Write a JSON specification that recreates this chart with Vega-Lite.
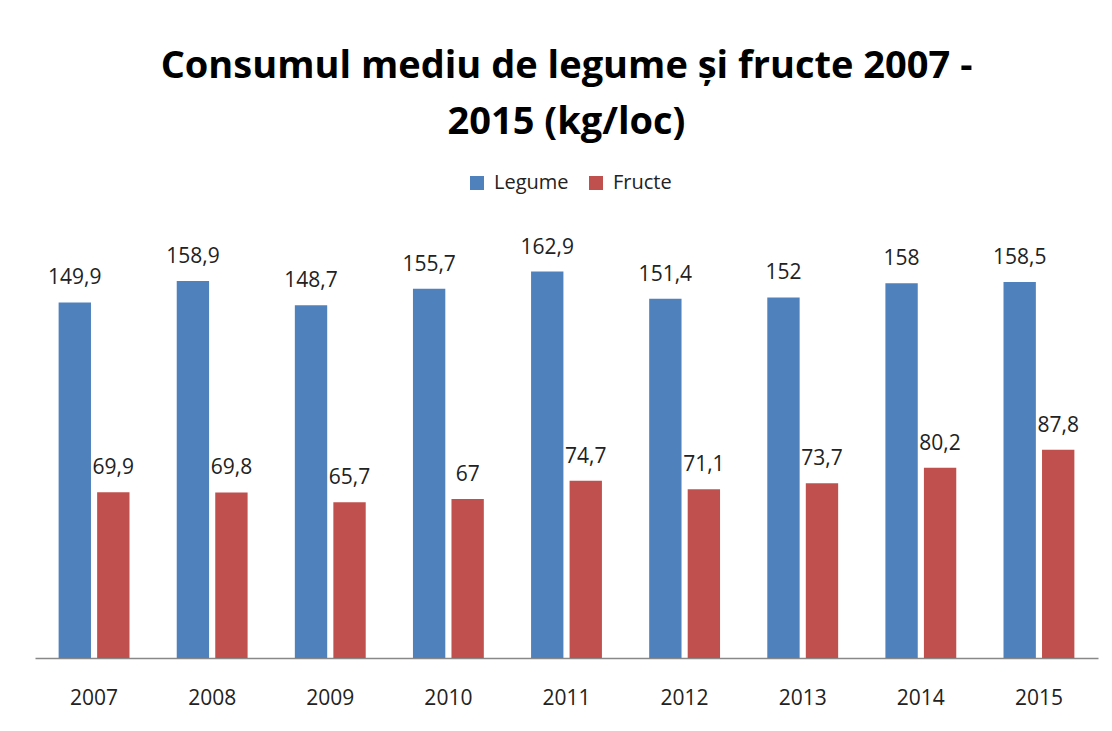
{
  "$schema": "https://vega.github.io/schema/vega-lite/v6.json",
  "width": 1063,
  "height": 427,
  "padding": {"left": 35, "top": 48, "right": 14, "bottom": 10},
  "autosize": {"type": "pad"},
  "background": "white",
  "title": {
    "text": ["Consumul mediu de legume și fructe 2007 -", "2015 (kg/loc)"],
    "font": "Open Sans",
    "fontSize": 38,
    "fontWeight": "bold",
    "color": "#000000",
    "lineHeight": 56,
    "anchor": "middle",
    "offset": 31
  },
  "data": {
    "values": [
      {"an": "2007", "serie": "Legume", "valoare": 149.9},
      {"an": "2007", "serie": "Fructe", "valoare": 69.9},
      {"an": "2008", "serie": "Legume", "valoare": 158.9},
      {"an": "2008", "serie": "Fructe", "valoare": 69.8},
      {"an": "2009", "serie": "Legume", "valoare": 148.7},
      {"an": "2009", "serie": "Fructe", "valoare": 65.7},
      {"an": "2010", "serie": "Legume", "valoare": 155.7},
      {"an": "2010", "serie": "Fructe", "valoare": 67},
      {"an": "2011", "serie": "Legume", "valoare": 162.9},
      {"an": "2011", "serie": "Fructe", "valoare": 74.7},
      {"an": "2012", "serie": "Legume", "valoare": 151.4},
      {"an": "2012", "serie": "Fructe", "valoare": 71.1},
      {"an": "2013", "serie": "Legume", "valoare": 152},
      {"an": "2013", "serie": "Fructe", "valoare": 73.7},
      {"an": "2014", "serie": "Legume", "valoare": 158},
      {"an": "2014", "serie": "Fructe", "valoare": 80.2},
      {"an": "2015", "serie": "Legume", "valoare": 158.5},
      {"an": "2015", "serie": "Fructe", "valoare": 87.8}
    ]
  },
  "encoding": {
    "x": {
      "field": "an",
      "type": "nominal",
      "title": null,
      "scale": {"paddingInner": 0.4, "paddingOuter": 0.2},
      "axis": {
        "labelAngle": 0,
        "ticks": false,
        "domainColor": "#888888",
        "domainWidth": 1.5,
        "labelFont": "Open Sans",
        "labelFontSize": 21,
        "labelColor": "#222222",
        "labelPadding": 29,
        "grid": false
      }
    },
    "xOffset": {
      "field": "serie",
      "sort": ["Legume", "Fructe"],
      "scale": {"paddingInner": 0.16, "paddingOuter": 0}
    },
    "y": {
      "field": "valoare",
      "type": "quantitative",
      "scale": {"domain": [0, 180], "nice": false},
      "axis": null
    }
  },
  "layer": [
    {
      "mark": {"type": "bar"},
      "encoding": {
        "color": {
          "field": "serie",
          "type": "nominal",
          "sort": ["Legume", "Fructe"],
          "scale": {"domain": ["Legume", "Fructe"], "range": ["#4F81BD", "#C0504D"]},
          "legend": {
            "orient": "none",
            "direction": "horizontal",
            "legendX": 432,
            "legendY": -58,
            "title": null,
            "symbolType": "square",
            "symbolSize": 196,
            "symbolStrokeWidth": 0,
            "labelFont": "Open Sans",
            "labelFontSize": 20,
            "labelColor": "#222222",
            "columnPadding": 17,
            "labelOffset": 7
          }
        }
      }
    },
    {
      "mark": {"type": "text", "baseline": "alphabetic", "dy": -18, "font": "Open Sans", "fontSize": 21, "color": "#222222"},
      "encoding": {
        "text": {"field": "valoare", "type": "quantitative", "format": ".1~f"}
      }
    }
  ],
  "config": {
    "view": {"stroke": null},
    "locale": {
      "number": {"decimal": ",", "thousands": ".", "grouping": [3], "currency": ["", ""]}
    }
  }
}
